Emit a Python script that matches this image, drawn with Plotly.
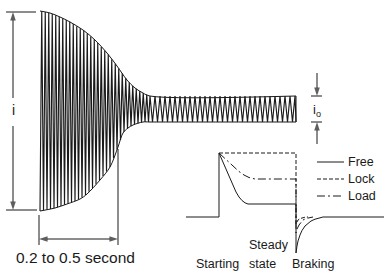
import numpy as np
import plotly.graph_objects as go

# ---------------- data (canvas units: x to the right, y downward) ----------------
# envelope of the starting current waveform
up_x = [40, 50, 60, 70, 83, 95, 107, 117, 127, 135, 143, 150, 296]
up_y = [11, 13, 17, 22, 30, 40, 53, 66, 80, 88, 93, 96, 96]
lo_x = [40, 55, 67, 80, 87, 100, 110, 118, 123, 128, 133, 143, 150, 296]
lo_y = [211, 208, 204, 199, 194, 180, 167, 147, 133, 128, 125, 122, 122, 122]
# carrier half-period spacing (decay part, steady part) and boundaries
carrier_segments = [(40, 150, 1.75), (150, 296, 2.5)]

# inset: current patterns
free_x = [186, 219, 219, 224, 230, 236, 239, 242, 245, 248, 296, 296, 297, 298, 300, 302, 305, 308, 311, 315, 319, 323, 384]
free_y = [217, 217, 153, 165, 179, 192, 197, 200.5, 202.8, 204, 204, 253, 246, 241, 235, 230.5, 226, 223, 221, 219.2, 218, 217, 217]
lock_x = [219, 296, 296, 297, 298, 300, 302, 305, 308]
lock_y = [153, 153, 224, 221.5, 220, 218.6, 217.8, 217.2, 217]
load_x = [219, 224, 229, 234, 239, 244, 249, 255, 296, 296, 297, 299, 301, 303, 306, 309, 313]
load_y = [153, 157.5, 162.5, 167.5, 171.5, 175, 177.5, 179, 179, 233, 229, 225, 222, 220, 218.5, 217.6, 217]

legend_names = ["Free", "Lock", "Load"]
legend_dash = ["solid", "4px,2px", "8px,3px,2px,3px"]
legend_y = [162, 179, 196]

INK = "#1a1a1a"
FONT = "Liberation Sans, Arial, sans-serif"

fig = go.Figure()


def line(xs, ys, dash="solid", width=1, shape="linear", color=INK):
    fig.add_trace(go.Scatter(x=xs, y=ys, mode="lines", hoverinfo="skip",
                             line=dict(color=color, width=width, dash=dash, shape=shape)))


def arrow(x0, y0, x1, y1):
    fig.add_trace(go.Scatter(x=[x0, x1], y=[y0, y1], mode="lines+markers", hoverinfo="skip",
                             line=dict(color=INK, width=1),
                             marker=dict(symbol="arrow", angleref="previous", size=[0, 9],
                                         color=INK, line=dict(width=0))))


def text(x, y, s, size=12, xanchor="center"):
    fig.add_annotation(x=x, y=y, text=s, showarrow=False, xanchor=xanchor, yanchor="middle",
                       font=dict(family=FONT, size=size, color=INK))


# oscillating waveform between the envelopes
xs = np.concatenate([np.arange(a, b, s) for a, b, s in carrier_segments] + [[296]])
ys = np.where(np.arange(len(xs)) % 2 == 0, np.interp(xs, lo_x, lo_y), np.interp(xs, up_x, up_y))
line(xs, ys, width=1.15)
line(up_x, up_y, shape="spline", width=1)
line(lo_x, lo_y, shape="spline", width=1)
line([296, 296], [96, 122])

# dimension lines
line([6, 36], [12, 12])
line([6, 37], [210, 210])
line([39, 39], [215, 245])
line([118, 118], [149, 245])
line([311, 322], [96, 96])
line([311, 322], [122, 122])
arrow(13, 98, 13, 12)
arrow(13, 126, 13, 210)
arrow(78, 239, 39, 239)
arrow(78, 239, 118, 239)
arrow(317, 73, 317, 96)
arrow(317, 144, 317, 122)

# inset curves
line(free_x, free_y)
line(lock_x, lock_y, dash=legend_dash[1])
line(load_x, load_y, dash=legend_dash[2])

# legend
for name, dash, ly in zip(legend_names, legend_dash, legend_y):
    line([317, 344], [ly, ly], dash=dash)
    text(346, ly, name, size=12.5, xanchor="left")

# labels
text(13, 110, "i", size=14)
text(317, 110, "i<sub>o</sub>", size=13)
text(75, 257, "0.2 to 0.5 second", size=15.5)
text(217, 264, "Starting", size=12.5)
text(247, 245, "Steady", size=12.5, xanchor="left")
text(247, 264, "state", size=12.5, xanchor="left")
text(313, 264, "Braking", size=12.5)

fig.update_layout(
    width=384, height=274, margin=dict(l=0, r=0, t=0, b=0),
    paper_bgcolor="white", plot_bgcolor="white", showlegend=False,
    xaxis=dict(range=[0, 384], visible=False, fixedrange=True),
    yaxis=dict(range=[274, 0], visible=False, fixedrange=True),
)
fig.write_html("out.html", config={"displayModeBar": False},
               post_script="document.body.style.margin='0';document.body.style.padding='0';")
